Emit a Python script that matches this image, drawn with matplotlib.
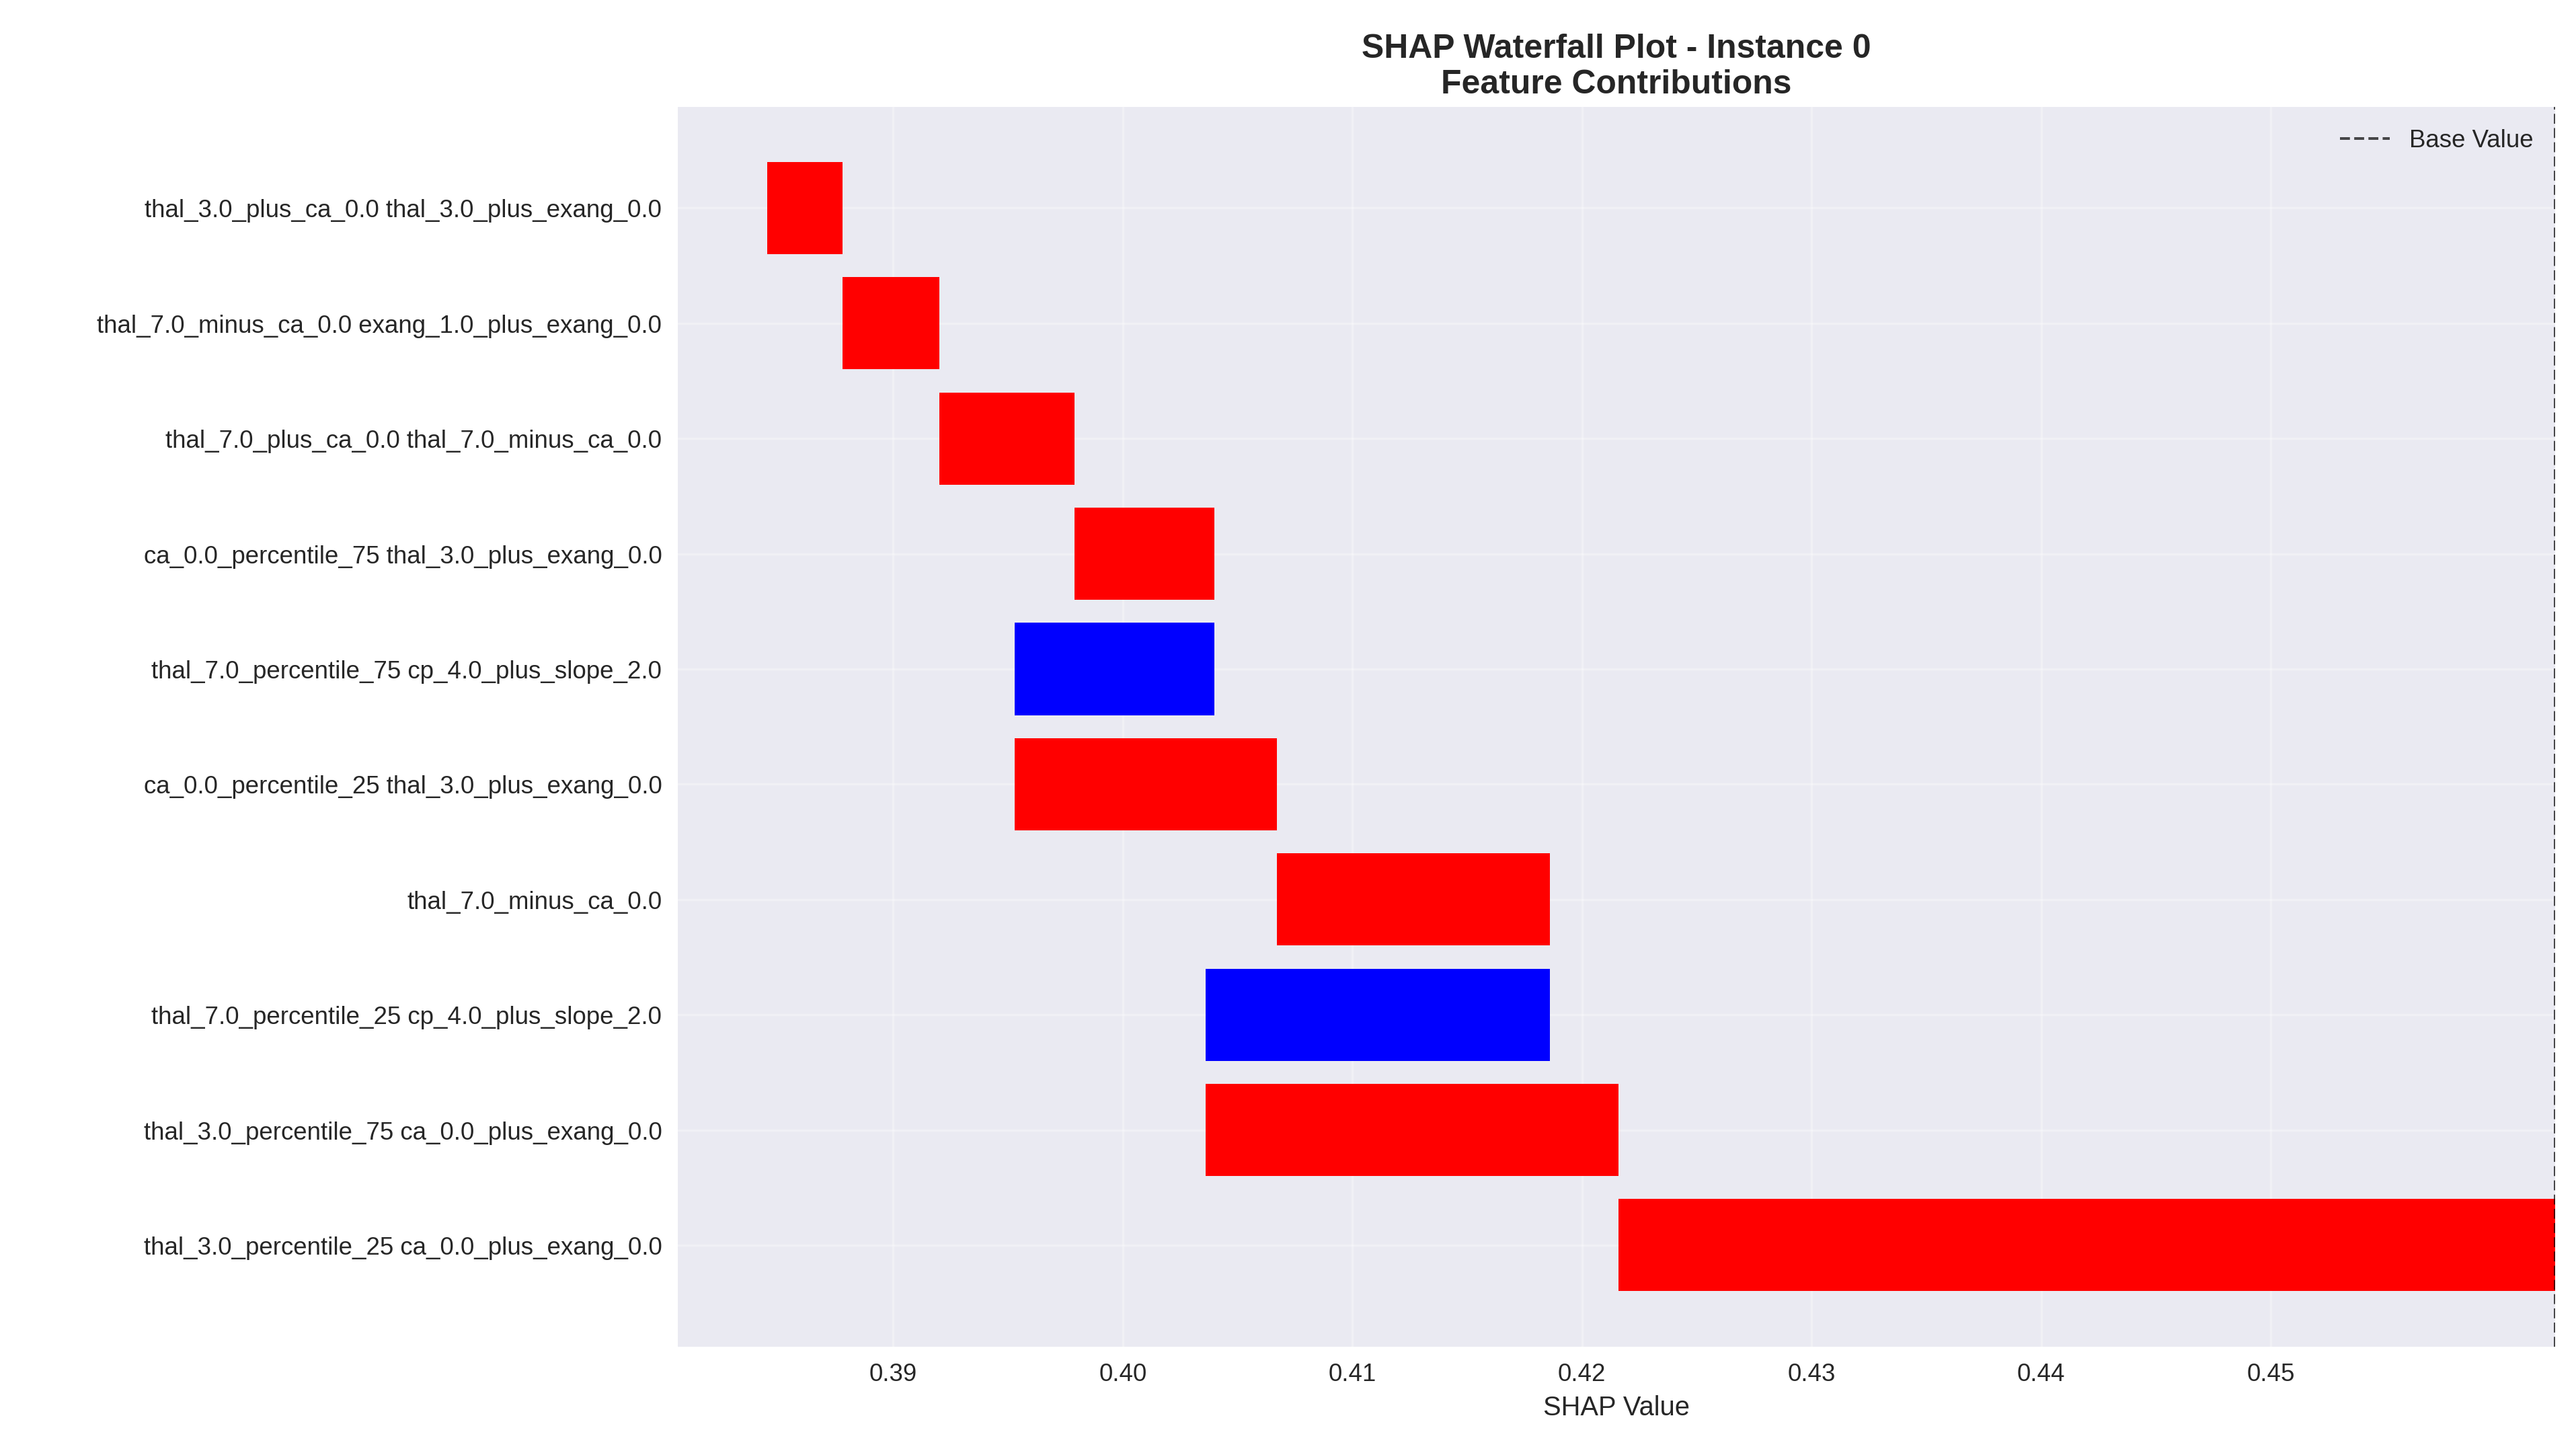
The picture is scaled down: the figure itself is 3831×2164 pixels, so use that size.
import matplotlib
matplotlib.use('Agg')
import numpy as np
import matplotlib.pyplot as plt

# features, bottom to top (largest |shap| first)
features = [
    'thal_3.0_percentile_25 ca_0.0_plus_exang_0.0',
    'thal_3.0_percentile_75 ca_0.0_plus_exang_0.0',
    'thal_7.0_percentile_25 cp_4.0_plus_slope_2.0',
    'thal_7.0_minus_ca_0.0',
    'ca_0.0_percentile_25 thal_3.0_plus_exang_0.0',
    'thal_7.0_percentile_75 cp_4.0_plus_slope_2.0',
    'ca_0.0_percentile_75 thal_3.0_plus_exang_0.0',
    'thal_7.0_plus_ca_0.0 thal_7.0_minus_ca_0.0',
    'thal_7.0_minus_ca_0.0 exang_1.0_plus_exang_0.0',
    'thal_3.0_plus_ca_0.0 thal_3.0_plus_exang_0.0',
]
shap_values = [-0.0408, -0.0180, 0.0150, -0.0119, -0.0114, 0.0087, -0.0061, -0.0059, -0.0042, -0.0033]
base_value = 0.4624

plt.style.use('seaborn-v0_8')
plt.rcParams['font.family'] = ['Liberation Sans', 'DejaVu Sans']

fig = plt.figure(figsize=(16, 9.04), dpi=239.44)
ax = fig.add_axes([0.263, 0.0745, 0.729, 0.852])

cum = base_value
for i, v in enumerate(shap_values):
    color = 'blue' if v > 0 else 'red'
    if v > 0:
        left = cum
    else:
        left = cum + v
    ax.barh(i, abs(v), left=left, height=0.8, color=color)
    cum = cum + v

ax.axvline(base_value, color='black', linestyle='--', linewidth=1.2, alpha=0.7, label='Base Value')
ax.set_yticks(np.arange(len(features)))
ax.set_yticklabels(features, fontsize=11)
ax.tick_params(axis='x', labelsize=11)
ax.set_xlim(0.3806, 0.4624)
ax.set_ylim(-0.88, 9.88)
ax.set_xticks([0.39, 0.40, 0.41, 0.42, 0.43, 0.44, 0.45])
ax.set_xlabel('SHAP Value', fontsize=12)
ax.set_title('SHAP Waterfall Plot - Instance 0\nFeature Contributions', fontsize=15, fontweight='bold')
ax.legend(loc='upper right', fontsize=11)
ax.grid(True, alpha=0.3)

plt.savefig('out.png', dpi=239.44)
